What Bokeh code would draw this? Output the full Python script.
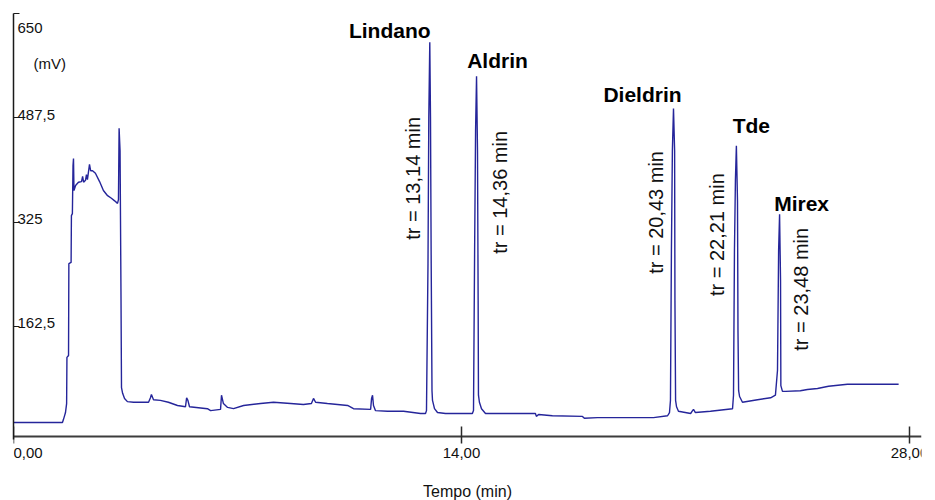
import math
from bokeh.plotting import figure
from bokeh.models import Range1d, LinearAxis, FixedTicker, CustomLabelingPolicy
from bokeh.embed import file_html
from bokeh.resources import INLINE
from bokeh.core.properties import value

# ---------------- data ----------------
time_min = [
    0.0, 1.53, 1.56, 1.59, 1.625, 1.66, 1.67, 1.72, 1.73, 1.80, 1.81, 1.84, 1.86, 1.875,
    1.89, 1.94, 2.03, 2.125, 2.16, 2.19, 2.25, 2.28, 2.31, 2.34, 2.375, 2.41, 2.47, 2.56,
    2.69, 2.81, 2.94, 3.06, 3.16, 3.25, 3.28, 3.30, 3.33, 3.36, 3.375, 3.41, 3.47, 3.56,
    3.75, 4.22, 4.28, 4.31, 4.375, 4.59, 4.84, 5.125, 5.375, 5.41, 5.45, 5.5, 6.06, 6.16,
    6.47, 6.5, 6.56, 6.69, 6.875, 7.19, 7.72, 8.125, 8.66, 9.06, 9.31, 9.375, 9.44, 9.81,
    10.44, 10.625, 11.16, 11.19, 11.22, 11.25, 11.31, 11.69, 12.19, 12.72, 12.875,
    12.906, 12.953, 12.978, 13.009, 13.031, 13.053, 13.078, 13.094, 13.156, 13.25, 13.5,
    14.34, 14.375, 14.41, 14.44, 14.47, 14.5, 14.52, 14.53, 14.56, 14.625, 14.75,
    16.31, 16.34, 16.41, 16.84, 17.78, 17.84, 18.25, 18.56, 20.0, 20.44, 20.5,
    20.53, 20.56, 20.59, 20.625, 20.66, 20.67, 20.69, 20.72, 20.78, 21.16, 21.22, 21.25,
    21.31, 21.78, 22.47,
    22.5, 22.53, 22.56, 22.59, 22.625, 22.64, 22.66, 22.69, 22.78, 23.25, 23.66, 23.81,
    23.875, 23.91, 23.94, 23.97, 23.98, 24.03, 24.125, 24.59, 24.81, 25.125, 25.47,
    26.06, 27.66,
]
signal_mv = [
    12.5, 12.5, 17, 22, 28, 42, 114, 117, 260, 262, 335, 338, 413, 424,
    374, 382, 387, 388, 396, 387, 390, 399, 391, 402, 415, 405, 405, 401,
    388, 374, 366, 362, 358, 354, 360, 471, 436, 203, 67, 58, 50, 45,
    44, 44, 51, 56, 48, 47, 44, 39, 37, 51, 47, 37, 34, 31,
    33, 55, 42, 36, 34, 39, 42, 44, 42, 40.5, 42, 50, 44, 42,
    39, 34, 33, 50, 55, 39, 31, 30, 30, 26.5, 26.5,
    31, 260, 488, 605, 488, 260, 62, 47, 34, 28, 26.5,
    26.5, 31, 281, 468, 552, 436, 203, 55, 44, 34, 26.5,
    26.5, 22, 25, 23, 22, 19, 20, 20, 20, 23, 28,
    47, 281, 436, 502, 436, 203, 47, 37, 30, 26.5, 31, 33,
    28, 30, 34,
    55, 281, 390, 444, 358, 156, 62, 53, 44, 48, 51, 55,
    94, 281, 337, 234, 70, 61, 61, 62, 64, 65.5, 69,
    72, 72,
]

peak_names = ["Lindano", "Aldrin", "Dieldrin", "Tde", "Mirex"]
peak_time = [13.009, 14.47, 20.625, 22.59, 23.94]
peak_mv = [605, 552, 502, 444, 337]
peak_tr_labels = ["tr = 13,14 min", "tr = 14,36 min", "tr = 20,43 min",
                  "tr = 22,21 min", "tr = 23,48 min"]

x_ticks = [0, 14, 28]
x_tick_labels = ["0,00", "14,00", "28,00"]
y_ticks = [162.5, 325, 487.5, 650]
y_tick_labels = ["162,5", "325", "487,5", "650"]
y_unit_label = "(mV)"
x_title = "Tempo (min)"

# ---------------- geometry ----------------
FONT = "Liberation Sans"
W, H = 935, 500
LEFT, TOP, RIGHT = 13, 13, 921          # frame edges in canvas pixels
ZERO_PX, AXIS_PX = 430, 436              # pixel rows of 0 mV and of the time axis
PX_PER_MIN = 32.0
PX_PER_MV = (ZERO_PX - TOP) / 650.0

def t_at(px):      # canvas x -> minutes
    return (px - LEFT) / PX_PER_MIN

def v_at(py):      # canvas y -> mV
    return (ZERO_PX - py) / PX_PER_MV

def dx(px):
    return px / PX_PER_MIN

def dy(px):
    return px / PX_PER_MV

p = figure(width=W, height=H, output_backend="svg", toolbar_location=None,
           x_range=Range1d(0, t_at(RIGHT)), y_range=Range1d(v_at(H), v_at(TOP)),
           x_axis_location=None, y_axis_location=None,
           min_border_left=LEFT, min_border_right=W - RIGHT, min_border_top=TOP,
           min_border_bottom=0)
p.grid.visible = False
p.outline_line_color = None
p.background_fill_color = "white"
p.border_fill_color = "white"

# the axes draw only lines and ticks; their labels are drawn as text below
HIDE_ALL = "for (const i of indices) { indices.unset(i) } return indices"

xaxis = LinearAxis(ticker=FixedTicker(ticks=x_ticks), fixed_location=v_at(AXIS_PX),
                   bounds=(0, t_at(RIGHT)),
                   major_label_policy=CustomLabelingPolicy(code=HIDE_ALL),
                   major_label_text_font_size="0px", major_label_standoff=0,
                   major_tick_in=10, major_tick_out=7, minor_tick_in=0, minor_tick_out=0,
                   axis_line_width=2, axis_line_color="#3c3c3c",
                   major_tick_line_color="#2a2a2a", major_tick_line_width=1.5)
p.add_layout(xaxis, "below")

yaxis = LinearAxis(ticker=FixedTicker(ticks=y_ticks), bounds=(v_at(AXIS_PX + 3), v_at(TOP)),
                   major_label_policy=CustomLabelingPolicy(code=HIDE_ALL),
                   major_label_text_font_size="0px", major_label_standoff=0,
                   major_tick_in=6, major_tick_out=0, minor_tick_in=0, minor_tick_out=0,
                   axis_line_width=1.5, axis_line_color="#1a1a1a",
                   major_tick_line_color="#1a1a1a", major_tick_line_width=1)
p.add_layout(yaxis, "left")

# trace
p.line(time_min, signal_mv, line_color="#25259a", line_width=1.4)

# y tick labels (inside the frame, right of the axis)
top_val = max(y_ticks)
lower = [i for i, v in enumerate(y_ticks) if v < top_val]
p.text(x=[dx(4)] * len(lower), y=[y_ticks[i] + dy(3) for i in lower],
       text=[y_tick_labels[i] for i in lower], text_font=value(FONT),
       text_font_size="15px", text_color="#111111",
       text_align="left", text_baseline="alphabetic")
top = [i for i, v in enumerate(y_ticks) if v >= top_val]
p.text(x=[dx(4)] * len(top), y=[y_ticks[i] - dy(14) for i in top],
       text=[y_tick_labels[i] for i in top], text_font=value(FONT),
       text_font_size="15px", text_color="#111111",
       text_align="left", text_baseline="alphabetic")
p.text(x=[dx(20)], y=[top_val - dy(50)], text=[y_unit_label], text_font=value(FONT),
       text_font_size="15px", text_color="#111111",
       text_align="left", text_baseline="middle")

# peak names and retention-time labels
name_off = [(-40, -12), (21, -16), (-31, -14), (15, -20), (22, -11)]
tr_off = [(-17, 136), (23, 116), (-18, 104), (-19, 89), (21, 75)]
p.text(x=[t + dx(o[0]) for t, o in zip(peak_time, name_off)],
       y=[v - dy(o[1]) for v, o in zip(peak_mv, name_off)],
       text=peak_names, text_font=value(FONT), text_font_size="21px",
       text_font_style="bold", text_color="#000000",
       text_align="center", text_baseline="middle")
p.text(x=[t + dx(o[0]) for t, o in zip(peak_time, tr_off)],
       y=[v - dy(o[1]) for v, o in zip(peak_mv, tr_off)],
       text=peak_tr_labels, text_font=value(FONT), text_font_size="20px",
       text_color="#111111", angle=math.pi / 2,
       text_align="center", text_baseline="middle")

# x tick labels (first one starts at the axis origin) and title
label_y = v_at(AXIS_PX + 16)
p.text(x=x_ticks[:1], y=[label_y], text=x_tick_labels[:1], text_font=value(FONT),
       text_font_size="15px", text_color="#111111",
       text_align="left", text_baseline="middle")
p.text(x=x_ticks[1:], y=[label_y] * (len(x_ticks) - 1), text=x_tick_labels[1:],
       text_font=value(FONT), text_font_size="15px", text_color="#111111",
       text_align="center", text_baseline="middle")
p.text(x=[t_at(467)], y=[v_at(491)], text=[x_title], text_font=value(FONT),
       text_font_size="16px", text_color="#111111",
       text_align="center", text_baseline="middle")

open("out.html", "w").write(file_html(p, INLINE))
